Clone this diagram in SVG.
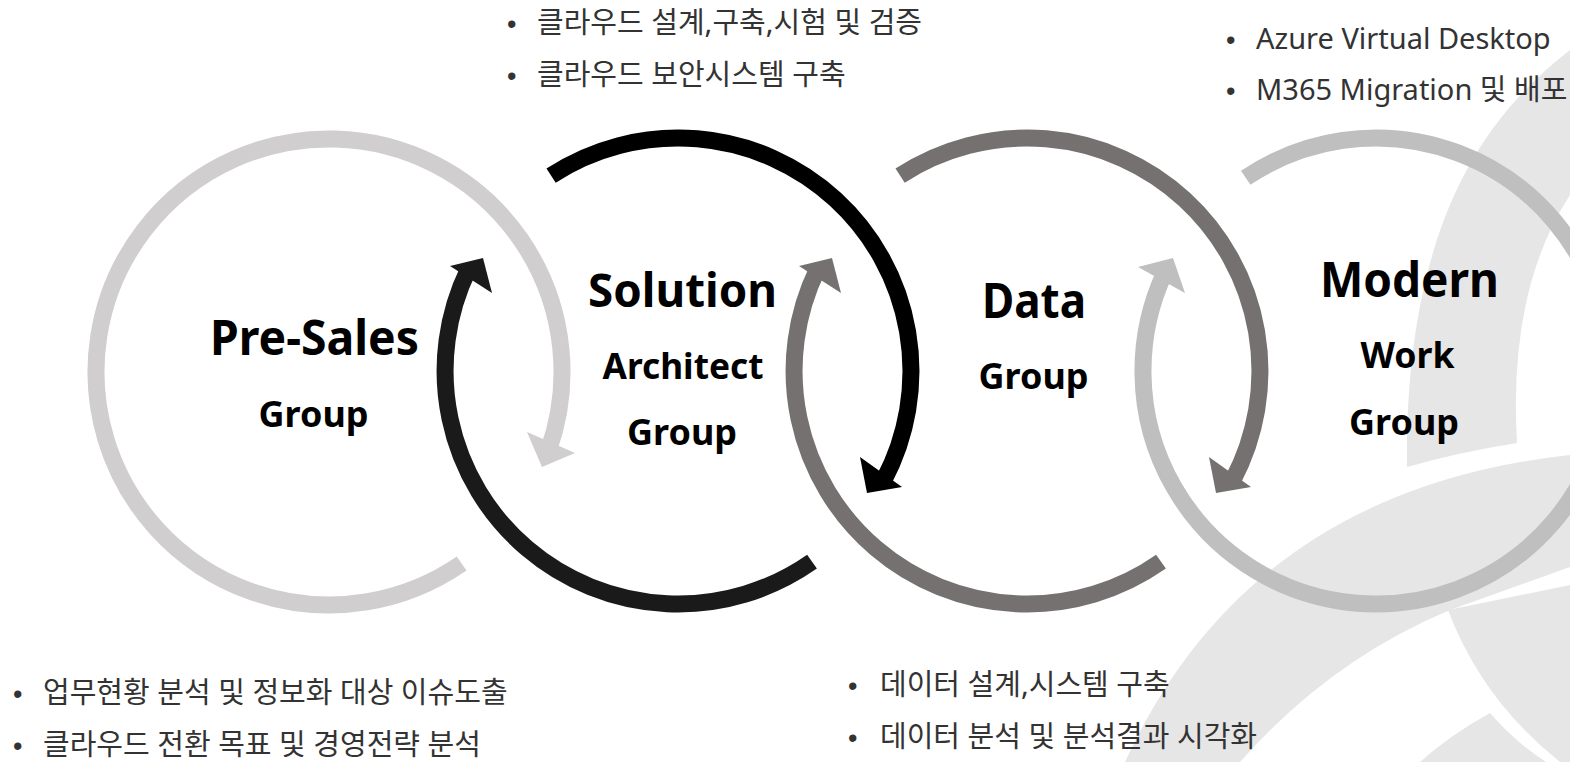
<svg xmlns="http://www.w3.org/2000/svg" width="1570" height="762" viewBox="0 0 1570 762">
  <style>
    .ring { fill: none; stroke-width: 17; stroke-linecap: butt; }
    .c1 { stroke: #d0cece; } .c1f { fill: #d0cece; }
    .c2a { stroke: #000000; } .c2af { fill: #000000; }
    .c2b { stroke: #1a1a1a; } .c2bf { fill: #1a1a1a; }
    .c3 { stroke: #767171; } .c3f { fill: #767171; }
    .c4 { stroke: #bfbfbf; } .c4f { fill: #bfbfbf; }
    .bg { fill: #e7e6e6; }
    .title { font-family: "Noto Sans", "Open Sans", "Liberation Sans", sans-serif; font-weight: 700; fill: #000000; text-anchor: middle; }
    .note { font-family: "Noto Sans", "Noto Sans CJK KR", sans-serif; font-size: 29px; fill: #333333; }
    .bul { font-family: "Liberation Sans", sans-serif; font-size: 27px; }
  </style>
  <rect width="1570" height="762" fill="#ffffff"/>
  <g id="background-logo">
    <path class="bg" d="M1570,50 C1480,120 1405,230 1407,467 Q1460,452 1517,443 Q1508,290 1570,195 Z"/>
    <path class="bg" d="M1125,762 Q1250,490 1570,455 L1570,567 L1450,610 Q1330,660 1240,762 Z"/>
    <path class="bg" d="M1448,610 L1570,585 L1570,762 L1560,762 Q1482,700 1448,610 Z"/>
    <path class="bg" d="M1490,713 Q1450,735 1420,762 L1546,762 Q1515,742 1490,713 Z"/>
  </g>
  <g id="connectors">
    <path class="ring c1" d="M461.6,563.5 A233,233 0 1 1 548.6,449.8"/>
    <polygon class="c1f" points="527,432 575,453 542,467"/>
    <path class="ring c2a" d="M551.1,175.6 A233,233 0 0 1 883.7,480.4"/>
    <polygon class="c2af" points="860,457 902,487 867,493"/>
    <path class="ring c2b" d="M812,561.6 A233,233 0 0 1 468.6,268.9"/>
    <polygon class="c2bf" points="450,266 492,293 483,258"/>
    <path class="ring c3" d="M900.1,175.6 A233,233 0 0 1 1232.7,480.4"/>
    <polygon class="c3f" points="1209,457 1251,487 1216,493"/>
    <path class="ring c3" d="M1161,561.6 A233,233 0 0 1 817.6,268.9"/>
    <polygon class="c3f" points="799,266 841,293 832,258"/>
    <path class="ring c4" d="M1245.7,177.8 A233,233 0 1 1 1164.8,272.5"/>
    <polygon class="c4f" points="1138,267 1185,293 1173,258"/>
  </g>
  <g id="pre-sales">
    <text class="title" x="314.5" y="355" font-size="48" textLength="209" lengthAdjust="spacingAndGlyphs">Pre-Sales</text>
    <text class="title" x="313.5" y="427" font-size="35" textLength="110" lengthAdjust="spacingAndGlyphs">Group</text>
  </g>
  <g id="solution-architect">
    <text class="title" x="682.5" y="307" font-size="47" textLength="189" lengthAdjust="spacingAndGlyphs">Solution</text>
    <text class="title" x="683" y="379" font-size="36" textLength="161" lengthAdjust="spacingAndGlyphs">Architect</text>
    <text class="title" x="682" y="445" font-size="35" textLength="110" lengthAdjust="spacingAndGlyphs">Group</text>
  </g>
  <g id="data">
    <text class="title" x="1034" y="318" font-size="48" textLength="104" lengthAdjust="spacingAndGlyphs">Data</text>
    <text class="title" x="1033.5" y="389" font-size="35" textLength="110" lengthAdjust="spacingAndGlyphs">Group</text>
  </g>
  <g id="modern-work">
    <text class="title" x="1409.5" y="297" font-size="48" textLength="179" lengthAdjust="spacingAndGlyphs">Modern</text>
    <text class="title" x="1407.5" y="368" font-size="35" textLength="94" lengthAdjust="spacingAndGlyphs">Work</text>
    <text class="title" x="1404" y="435" font-size="35" textLength="110" lengthAdjust="spacingAndGlyphs">Group</text>
  </g>
  <g id="notes-solution">
    <text class="note" y="33"><tspan class="bul" x="507">•</tspan><tspan x="537">클라우드 설계,구축,시험 및 검증</tspan></text>
    <text class="note" y="85"><tspan class="bul" x="507">•</tspan><tspan x="537">클라우드 보안시스템 구축</tspan></text>
  </g>
  <g id="notes-modern-work">
    <text class="note" y="49" font-size="30"><tspan class="bul" x="1226">•</tspan><tspan x="1256">Azure Virtual Desktop</tspan></text>
    <text class="note" y="100" font-size="30"><tspan class="bul" x="1226">•</tspan><tspan x="1256">M365 Migration 및 배포</tspan></text>
  </g>
  <g id="notes-pre-sales">
    <text class="note" y="703"><tspan class="bul" x="13">•</tspan><tspan x="43">업무현황 분석 및 정보화 대상 이슈도출</tspan></text>
    <text class="note" y="755"><tspan class="bul" x="13">•</tspan><tspan x="43">클라우드 전환 목표 및 경영전략 분석</tspan></text>
  </g>
  <g id="notes-data">
    <text class="note" y="695"><tspan class="bul" x="848">•</tspan><tspan x="880">데이터 설계,시스템 구축</tspan></text>
    <text class="note" y="747"><tspan class="bul" x="848">•</tspan><tspan x="880">데이터 분석 및 분석결과 시각화</tspan></text>
  </g>
</svg>
